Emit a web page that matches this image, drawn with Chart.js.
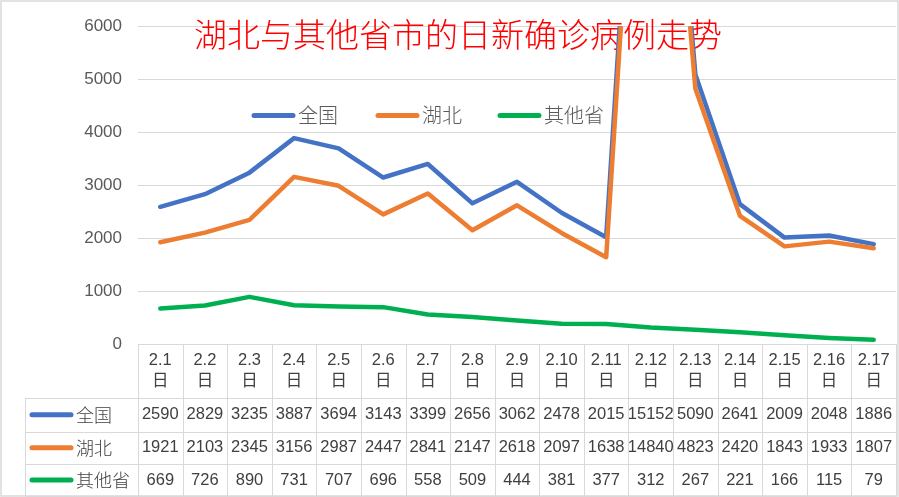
<!DOCTYPE html>
<html><head><meta charset="utf-8">
<script src="https://cdn.jsdelivr.net/npm/chart.js@4/dist/chart.umd.min.js"></script>
<style>html,body{margin:0;padding:0;background:#fff}#wrap{width:899px;height:497px;position:relative}</style>
</head><body><div id="wrap"><canvas id="c" width="899" height="497"></canvas></div>
<script>
const titleText = '湖北与其他省市的日新确诊病例走势';
const dayLabels = ['2.1','2.2','2.3','2.4','2.5','2.6','2.7','2.8','2.9','2.10','2.11','2.12','2.13','2.14','2.15','2.16','2.17'];
const daySuffix = '日';
const seriesNames = ['全国','湖北','其他省'];
const nationalValues = [2590,2829,3235,3887,3694,3143,3399,2656,3062,2478,2015,15152,5090,2641,2009,2048,1886];
const hubeiValues = [1921,2103,2345,3156,2987,2447,2841,2147,2618,2097,1638,14840,4823,2420,1843,1933,1807];
const otherValues = [669,726,890,731,707,696,558,509,444,381,377,312,267,221,166,115,79];
const yTickValues = [0,1000,2000,3000,4000,5000,6000];

const colors = ['#4472C4','#ED7D31','#00B050'];
const seriesValues = [nationalValues, hubeiValues, otherValues];
const gridColor = '#D9D9D9';
const textColor = '#595959';
const tableText = '#404040';
const numFont = '16.5px "Liberation Sans", "Noto Sans CJK SC", sans-serif';
const cjkFont = 'Noto Sans CJK SC';

const decorPlugin = {
  id: 'decor',
  beforeDatasetsDraw(chart) {
    const ctx = chart.ctx;
    ctx.save();
    ctx.fillStyle = '#FF0000';
    ctx.font = '300 33px "' + cjkFont + '"';
    ctx.textBaseline = 'middle';
    ctx.textAlign = 'left';
    ctx.fillText(titleText, 194, 34);
    const legendX = [252, 376, 498];
    ctx.font = '300 20px "' + cjkFont + '"';
    ctx.lineCap = 'round';
    for (let i = 0; i < 3; i++) {
      ctx.strokeStyle = colors[i];
      ctx.lineWidth = 5;
      ctx.beginPath();
      ctx.moveTo(legendX[i] + 2, 115.5);
      ctx.lineTo(legendX[i] + 41, 115.5);
      ctx.stroke();
      ctx.fillStyle = textColor;
      ctx.fillText(seriesNames[i], legendX[i] + 46, 115);
    }
    ctx.restore();
  },
  afterDraw(chart) {
    const ctx = chart.ctx;
    const x = chart.scales.x;
    const area = chart.chartArea;
    const n = dayLabels.length;
    const step = x.getPixelForValue(1) - x.getPixelForValue(0);
    const top = area.bottom;
    const rows = [x.bottom, x.bottom + 33.5, x.bottom + 66, x.bottom + 98];
    const leftX = 25;
    const px = v => Math.round(v) + 0.5;
    ctx.save();
    ctx.strokeStyle = gridColor;
    ctx.lineWidth = 1;
    ctx.beginPath();
    for (let i = 0; i <= n; i++) {
      const bx = px(x.getPixelForValue(0) - step / 2 + i * step);
      ctx.moveTo(bx, top);
      ctx.lineTo(bx, rows[3]);
    }
    ctx.moveTo(px(leftX), rows[0]);
    ctx.lineTo(px(leftX), rows[3]);
    for (let r = 0; r < 4; r++) {
      ctx.moveTo(px(leftX), px(rows[r]));
      ctx.lineTo(area.right, px(rows[r]));
    }
    ctx.stroke();
    ctx.textAlign = 'center';
    ctx.textBaseline = 'middle';
    for (let r = 0; r < 3; r++) {
      const cy = (rows[r] + rows[r + 1]) / 2;
      ctx.font = numFont;
      ctx.fillStyle = tableText;
      for (let i = 0; i < n; i++) {
        ctx.fillText(String(seriesValues[r][i]), x.getPixelForValue(i), cy);
      }
      ctx.strokeStyle = colors[r];
      ctx.lineWidth = 5;
      ctx.lineCap = 'round';
      ctx.beginPath();
      ctx.moveTo(32, cy);
      ctx.lineTo(71, cy);
      ctx.stroke();
      ctx.textAlign = 'left';
      ctx.font = '300 18px "' + cjkFont + '"';
      ctx.fillText(seriesNames[r], 76, cy);
      ctx.textAlign = 'center';
    }
    ctx.strokeStyle = gridColor;
    ctx.lineWidth = 1.5;
    ctx.strokeRect(1, 1, 897, 495);
    ctx.restore();
  }
};

const lineDataset = (i) => ({
  label: seriesNames[i],
  data: seriesValues[i],
  borderColor: colors[i],
  backgroundColor: colors[i],
  borderWidth: 4.5,
  pointRadius: 0,
  pointHoverRadius: 0,
  tension: 0,
  borderJoinStyle: 'round',
  borderCapStyle: 'round',
  clip: {left: 10, right: 10, top: 0, bottom: 10}
});

new Chart(document.getElementById('c'), {
  type: 'line',
  data: {
    labels: dayLabels.map(d => [d, daySuffix]),
    datasets: [lineDataset(2), lineDataset(1), lineDataset(0)]
  },
  options: {
    responsive: false,
    devicePixelRatio: 1,
    animation: false,
    events: [],
    layout: {padding: {left: 0, right: 3, top: 23, bottom: 99}},
    plugins: {legend: {display: false}, title: {display: false}, tooltip: {enabled: false}},
    scales: {
      x: {
        offset: true,
        grid: {display: true, drawOnChartArea: false, drawTicks: false, color: gridColor},
        border: {display: true, color: gridColor, width: 1},
        ticks: {
          color: tableText, padding: 6, maxRotation: 0, autoSkip: false,
          font: {family: '"Liberation Sans", "Noto Sans CJK SC"', size: 16.5, lineHeight: 1.27}
        },
        afterFit: s => { s.height = 54; }
      },
      y: {
        min: 0, max: 6000,
        afterBuildTicks: s => { s.ticks = yTickValues.map(v => ({value: v})); },
        grid: {color: gridColor, lineWidth: 1, drawTicks: false},
        border: {display: false},
        ticks: {color: textColor, padding: 16, font: {family: '"Liberation Sans"', size: 17},
          callback: v => String(v)},
        afterFit: s => { s.width = 138; }
      }
    }
  },
  plugins: [decorPlugin]
});
</script>
</body></html>
